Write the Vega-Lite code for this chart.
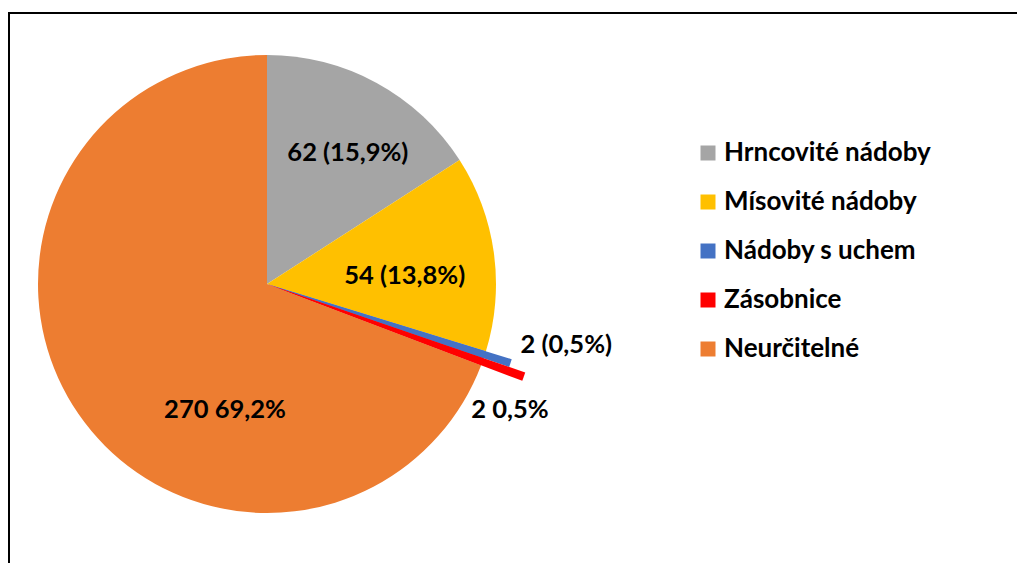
{
  "$schema": "https://vega.github.io/schema/vega-lite/v6.json",
  "width": 1020,
  "height": 560,
  "autosize": {"type": "none"},
  "padding": {"left": 9, "top": 13, "right": 0, "bottom": 0},
  "background": "white",
  "config": {
    "view": {"stroke": "black", "strokeWidth": 2},
    "font": "Lato"
  },
  "data": {
    "values": [
      {"kategorie": "Hrncovité nádoby", "pocet": 62, "poradi": 1, "popisek": "62 (15,9%)"},
      {"kategorie": "Mísovité nádoby", "pocet": 54, "poradi": 2, "popisek": "54 (13,8%)"},
      {"kategorie": "Nádoby s uchem", "pocet": 2, "poradi": 3, "popisek": "2 (0,5%)"},
      {"kategorie": "Zásobnice", "pocet": 2, "poradi": 4, "popisek": "2 0,5%"},
      {"kategorie": "Neurčitelné", "pocet": 270, "poradi": 5, "popisek": "270 69,2%"}
    ]
  },
  "encoding": {
    "theta": {"field": "pocet", "type": "quantitative", "stack": true},
    "order": {"field": "poradi", "type": "quantitative"},
    "x": {"datum": 258, "type": "quantitative", "scale": {"domain": [0, 1020]}, "axis": null},
    "y": {"datum": 271, "type": "quantitative", "scale": {"domain": [0, 560], "reverse": true}, "axis": null},
    "color": {
      "field": "kategorie",
      "type": "nominal",
      "scale": {
        "domain": ["Hrncovité nádoby", "Mísovité nádoby", "Nádoby s uchem", "Zásobnice", "Neurčitelné"],
        "range": ["#A5A5A5", "#FFC000", "#4472C4", "#FF0000", "#ED7D31"]
      },
      "legend": {
        "orient": "none",
        "legendX": 686,
        "legendY": 127,
        "title": null,
        "padding": 0,
        "labelFont": "Lato",
        "labelFontSize": 26,
        "labelFontWeight": "bold",
        "labelColor": "black",
        "labelLimit": 400,
        "labelOffset": 3,
        "symbolType": "square",
        "symbolSize": 225,
        "symbolStrokeWidth": 0,
        "symbolOpacity": 1,
        "rowPadding": 23
      }
    }
  },
  "layer": [
    {
      "mark": {"type": "arc", "radius": 229}
    },
    {
      "mark": {"type": "arc", "radius": 256},
      "encoding": {
        "opacity": {"condition": {"test": "datum.poradi === 3", "value": 1}, "value": 0}
      }
    },
    {
      "mark": {"type": "arc", "radius": 273},
      "encoding": {
        "opacity": {"condition": {"test": "datum.poradi === 4", "value": 1}, "value": 0}
      }
    },
    {
      "mark": {"type": "text", "radius": 150, "dx": 9, "dy": 1, "fontSize": 25.5, "fontWeight": "bold", "font": "Lato"},
      "encoding": {
        "color": {"value": "black"},
        "text": {"condition": {"test": "datum.poradi === 1", "field": "popisek"}, "value": ""}
      }
    },
    {
      "mark": {"type": "text", "radius": 138, "dx": 1, "dy": 11, "fontSize": 25.5, "fontWeight": "bold", "font": "Lato"},
      "encoding": {
        "color": {"value": "black"},
        "text": {"condition": {"test": "datum.poradi === 2", "field": "popisek"}, "value": ""}
      }
    },
    {
      "mark": {"type": "text", "radius": 300, "dx": 14, "dy": -32, "fontSize": 25.5, "fontWeight": "bold", "font": "Lato"},
      "encoding": {
        "color": {"value": "black"},
        "text": {"condition": {"test": "datum.poradi === 3", "field": "popisek"}, "value": ""}
      }
    },
    {
      "mark": {"type": "text", "radius": 270, "dx": -11, "dy": 34, "fontSize": 25.5, "fontWeight": "bold", "font": "Lato"},
      "encoding": {
        "color": {"value": "black"},
        "text": {"condition": {"test": "datum.poradi === 4", "field": "popisek"}, "value": ""}
      }
    },
    {
      "mark": {"type": "text", "radius": 130, "dx": 65, "dy": 52, "fontSize": 25.5, "fontWeight": "bold", "font": "Lato"},
      "encoding": {
        "color": {"value": "black"},
        "text": {"condition": {"test": "datum.poradi === 5", "field": "popisek"}, "value": ""}
      }
    }
  ]
}
